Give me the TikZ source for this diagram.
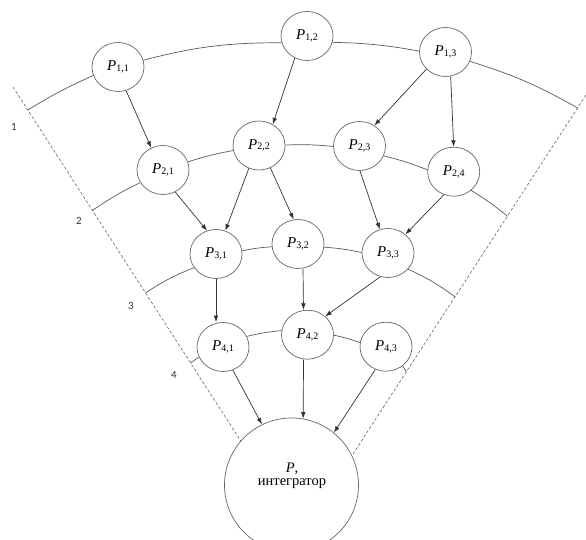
\documentclass[tikz,border=0pt]{standalone}
\usepackage{fontspec}
\setmainfont{Liberation Serif}
\newfontfamily\levelfont{Carlito}
\usetikzlibrary{arrows.meta,shapes.geometric,calc}

% processor label P_{i,j}
\newcommand\proclabel[2]{\textit{P}\kern0.2pt\raisebox{-0.7pt}{\fontsize{10}{10}\selectfont #1,#2}}

\begin{document}
\begin{tikzpicture}[x=1pt,y=1pt,
  proc/.style={ellipse, draw=black!60, fill=white, line width=0.7pt,
    minimum width=52pt, minimum height=49pt, inner sep=0pt,
    font=\fontsize{15}{15}\selectfont},
  integ/.style={circle, draw=black!60, fill=white, line width=0.7pt,
    minimum size=134pt, inner sep=0pt},
  ring/.style={draw=black!65, line width=0.7pt},
  flow/.style={draw=black!80, line width=0.7pt,
    -{Latex[length=6.5pt,width=4.6pt]}},
  bound/.style={draw=black!60, line width=0.6pt, dash pattern=on 3pt off 2pt},
  lvl/.style={font=\levelfont\fontsize{11}{11}\selectfont, text=black!80}
]
\useasboundingbox (0,0) rectangle (586,540);
\clip (0,0) rectangle (586,540);

% integrator
\node[integ] (P) at (291.5,55) {};
\node[font=\fontsize{14.5}{13.5}\selectfont, align=center] (Ptext) at (292,64)
  {\textit{P},\\интегратор};

% processors, level by level
\node[proc] (P11) at (118,473)   {\proclabel{1}{1}};
\node[proc] (P12) at (307,504)   {\proclabel{1}{2}};
\node[proc] (P13) at (445.5,488) {\proclabel{1}{3}};

\node[proc] (P21) at (163,370)     {\proclabel{2}{1}};
\node[proc] (P22) at (259,394.5)   {\proclabel{2}{2}};
\node[proc] (P23) at (359.5,394)   {\proclabel{2}{3}};
\node[proc] (P24) at (453.7,368.3) {\proclabel{2}{4}};

\node[proc] (P31) at (216,286) {\proclabel{3}{1}};
\node[proc] (P32) at (298,296) {\proclabel{3}{2}};
\node[proc] (P33) at (388,287) {\proclabel{3}{3}};

\node[proc] (P41) at (223,193)     {\proclabel{4}{1}};
\node[proc] (P42) at (307.5,205.3) {\proclabel{4}{2}};
\node[proc] (P43) at (386,193.3)   {\proclabel{4}{3}};

% sector boundaries
\coordinate (DLa) at (13,453);
\coordinate (DLb) at (P.139);
\coordinate (DRa) at (586,445);
\coordinate (DRb) at (P.26);
\draw[bound] (DLa) -- (DLb);
\draw[bound] (DRa) -- (DRb);

% ring ends on the boundaries
\coordinate (L1) at ($(DLa)!0.065!(DLb)$);
\coordinate (L2) at ($(DLa)!0.349!(DLb)$);
\coordinate (L3) at ($(DLa)!0.582!(DLb)$);
\coordinate (L4) at ($(DLa)!0.780!(DLb)$);
\coordinate (R1) at ($(DRa)!0.036!(DRb)$);
\coordinate (R2) at ($(DRa)!0.336!(DRb)$);
\coordinate (R3) at ($(DRa)!0.560!(DRb)$);
\coordinate (R4) at ($(DRa)!0.768!(DRb)$);

% rings, one segment per neighbouring pair
\draw[ring] (L1) to[bend left=3.7] (P11.199);
\draw[ring] (P11.15) to[bend left=7.3] (P12.195);
\draw[ring] (P12.346) to[bend left=4.4] (P13.178);
\draw[ring] (P13.339) to[bend left=6.1] (R1);

\draw[ring] (L2) to[bend left=4.3] (P21.209);
\draw[ring] (P21.18) to[bend left=3.7] (P22.191);
\draw[ring] (P22.1) to[bend left=3.9] (P23.181);
\draw[ring] (P23.338) to[bend left=3.5] (P24.176);
\draw[ring] (P24.313) to[bend left=3.6] (R2);

\draw[ring] (L3) to[bend left=5.8] (P31.212);
\draw[ring] (P31.7) to[bend left=3.4] (P32.186);
\draw[ring] (P32.353) to[bend left=4.1] (P33.179);
\draw[ring] (P33.321) to[bend left=6] (R3);

\draw[ring] (L4) to[bend left=1] (P41.203);
\draw[ring] (P41.24) to[bend left=3.9] (P42.171);
\draw[ring] (P42.359) to[bend left=3.2] (P43.171);
\draw[ring] (P43.311) to[bend left=0.8] (R4);

% data flow
\draw[flow] (P11.289) -- (P21.118);
\draw[flow] (P12.241) -- (P22.57);
\draw[flow] (P13.222) -- (P23.54);
\draw[flow] (P13.282) -- (P24.90);
\draw[flow] (P21.299) -- (P31.111);
\draw[flow] (P22.246) -- (P31.68);
\draw[flow] (P22.297) -- (P32.100);
\draw[flow] (P23.271) -- (P33.109);
\draw[flow] (P24.247) -- (P33.47);
\draw[flow] (P31.south) -- (P31.south |- P41.north);
\draw[flow] ([xshift=5pt]P32.south) -- ([xshift=-4pt]P42.north);
\draw[flow] (P33.252) -- (P42.46);
\draw[flow] (P41.293) -- (P.116);
\draw[flow] ([xshift=-4pt]P42.south) -- (P.80);
\draw[flow] (P43.245) -- (P.51);

% level numbers
\node[lvl] (n1) at (14,413)  {1};
\node[lvl] (n2) at (79,319)  {2};
\node[lvl] (n3) at (131,234) {3};
\node[lvl] (n4) at (174,165) {4};
\end{tikzpicture}
\end{document}
